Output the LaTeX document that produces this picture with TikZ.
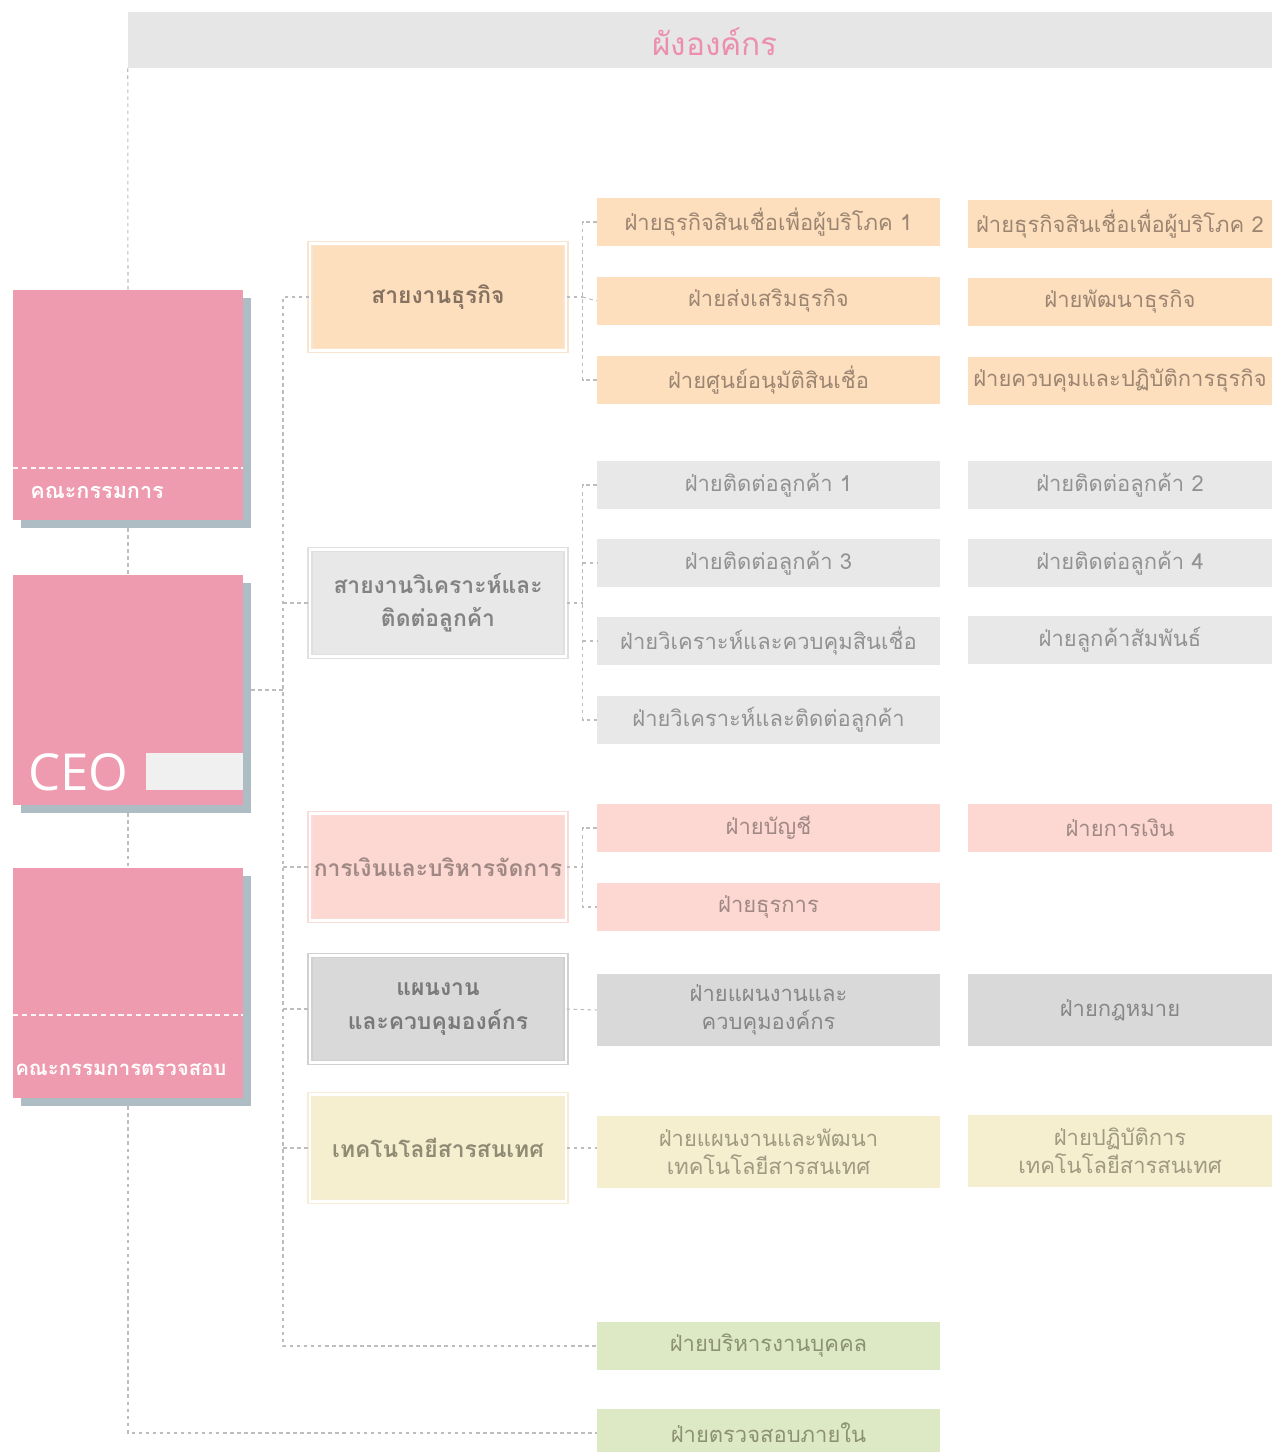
\documentclass[tikz,border=0pt]{standalone}
\usepackage{fontspec}
\newfontfamily\thaifont[Script=Thai]{Loma}
\newfontfamily\ceofont{Open Sans}
\usetikzlibrary{shadows}
\definecolor{boardpink}{HTML}{EE9AAF}
\definecolor{shadowblue}{HTML}{AEBCC3}
\definecolor{titlegray}{HTML}{E6E6E6}
\definecolor{titlepink}{HTML}{EC8FAE}
\definecolor{linegray}{HTML}{BDBDBD}
\definecolor{bizfill}{HTML}{FDDFBE}
\definecolor{bizframe}{HTML}{F8E4CF}
\definecolor{biztext}{HTML}{9C8672}
\definecolor{anlfill}{HTML}{E8E8E8}
\definecolor{anlframe}{HTML}{E0E0E0}
\definecolor{anltext}{HTML}{929292}
\definecolor{finfill}{HTML}{FDD7D1}
\definecolor{finframe}{HTML}{F9DCD7}
\definecolor{fintext}{HTML}{A08985}
\definecolor{planfill}{HTML}{D9D9D9}
\definecolor{planframe}{HTML}{D0D0D0}
\definecolor{plantext}{HTML}{878787}
\definecolor{techfill}{HTML}{F5EECF}
\definecolor{techframe}{HTML}{F5EDD5}
\definecolor{techtext}{HTML}{A09A82}
\definecolor{hrfill}{HTML}{DDE8C5}
\definecolor{hrtext}{HTML}{8C9174}
\tikzset{
  link/.style={draw=linegray, line width=0.6pt, dash pattern=on 2pt off 2pt},
  whitedash/.style={draw=white!90!boardpink, line width=0.7pt, dash pattern=on 3pt off 2pt},
  pinkbox/.style={fill=boardpink, minimum width=4.6cm, minimum height=4.6cm, inner sep=0pt,
    general shadow={fill=shadowblue, shadow xshift=0.16cm, shadow yshift=-0.16cm}},
  boardlabel/.style={text=white, font=\thaifont\bfseries\fontsize{12.3}{15}\selectfont, inner sep=0pt},
  grp/.style 2 args={fill=#1, draw=#2, double=white, double distance=1.6pt, line width=0.7pt,
    minimum width=5.12cm, minimum height=2.14cm, inner sep=0pt, align=center,
    font=\thaifont\bfseries\fontsize{13}{19}\selectfont},
  unit/.style 2 args={fill=#1, text=#2, minimum height=0.96cm, inner sep=0pt, align=center,
    font=\thaifont\fontsize{12.5}{16}\selectfont},
  wide/.style={minimum width=6.86cm},
  narrow/.style={minimum width=6.08cm},
  tall/.style={minimum height=1.44cm}
}
\begin{document}
\begin{tikzpicture}[x=0.02cm,y=-0.02cm]
\useasboundingbox (0,0) rectangle (1278,1452);

% title bar
\node[fill=titlegray, minimum width=22.88cm, minimum height=1.12cm, inner sep=0pt] (title) at (700,40) {};
\node[text=titlepink, font=\thaifont\fontsize{18}{20}\selectfont, inner sep=0pt] (titletxt) at (715,42) {ผังองค์กร};

% board, CEO, audit committee
\node[pinkbox] (board) at (128,405) {};
\node[pinkbox] (ceo) at (128,690) {};
\node[pinkbox] (audit) at (128,983) {};
\draw[whitedash] (13,468) -- (243,468);
\draw[whitedash] (13,1015) -- (243,1015);
\node[boardlabel, anchor=west] (boardtxt) at (30,492) {คณะกรรมการ};
\node[boardlabel, anchor=west, font=\thaifont\bfseries\fontsize{11.6}{14}\selectfont] (audittxt) at (15,1070) {คณะกรรมการตรวจสอบ};
\node[text=white, font=\ceofont\fontsize{29}{31}\selectfont, inner sep=0pt, anchor=west] (ceotxt) at (28,772) {CEO};
\node[fill=white!94!black, minimum width=1.94cm, minimum height=0.74cm, inner sep=0pt] (ceobar) at (194.5,771.5) {};

% lines of work
\node[grp={bizfill}{bizframe}, text=biztext!85!black] (biz) at (438,297) {สายงานธุรกิจ};
\node[grp={anlfill}{anlframe}, text=anltext!90!black] (anl) at (438,603) {สายงานวิเคราะห์และ\\ติดต่อลูกค้า};
\node[grp={finfill}{finframe}, text=fintext] (fin) at (438,867) {การเงินและบริหารจัดการ};
\node[grp={planfill}{planframe}, text=plantext!90!black] (plan) at (438,1009) {แผนงาน\\และควบคุมองค์กร};
\node[grp={techfill}{techframe}, text=techtext!90!black] (tech) at (438,1148) {เทคโนโลยีสารสนเทศ};

% departments
\foreach \n/\c/\y/\t in {b1/wide/222/ฝ่ายธุรกิจสินเชื่อเพื่อผู้บริโภค 1, b2/wide/301/ฝ่ายส่งเสริมธุรกิจ,
    b3/wide/380/ฝ่ายศูนย์อนุมัติสินเชื่อ}
  \node[unit={bizfill}{biztext}, \c] (\n) at (768.5,\y) {\t};
\foreach \n/\c/\y/\t in {b4/narrow/224/ฝ่ายธุรกิจสินเชื่อเพื่อผู้บริโภค 2, b5/narrow/302/ฝ่ายพัฒนาธุรกิจ,
    b6/narrow/381/ฝ่ายควบคุมและปฏิบัติการธุรกิจ}
  \node[unit={bizfill}{biztext}, \c] (\n) at (1120,\y) {\t};
\foreach \n/\y/\t in {a1/485/ฝ่ายติดต่อลูกค้า 1, a2/563/ฝ่ายติดต่อลูกค้า 3,
    a3/641/ฝ่ายวิเคราะห์และควบคุมสินเชื่อ, a4/720/ฝ่ายวิเคราะห์และติดต่อลูกค้า}
  \node[unit={anlfill}{anltext}, wide] (\n) at (768.5,\y) {\t};
\foreach \n/\y/\t in {a5/485/ฝ่ายติดต่อลูกค้า 2, a6/563/ฝ่ายติดต่อลูกค้า 4, a7/640/ฝ่ายลูกค้าสัมพันธ์}
  \node[unit={anlfill}{anltext}, narrow] (\n) at (1120,\y) {\t};
\node[unit={finfill}{fintext}, wide] (f1) at (768.5,828) {ฝ่ายบัญชี};
\node[unit={finfill}{fintext}, wide] (f2) at (768.5,907) {ฝ่ายธุรการ};
\node[unit={finfill}{fintext}, narrow] (f3) at (1120,828) {ฝ่ายการเงิน};
\node[unit={planfill}{plantext}, wide, tall] (p1) at (768.5,1010) {ฝ่ายแผนงานและ\\ควบคุมองค์กร};
\node[unit={planfill}{plantext}, narrow, tall] (p2) at (1120,1010) {ฝ่ายกฎหมาย};
\node[unit={techfill}{techtext}, wide, tall] (t1) at (768.5,1152) {ฝ่ายแผนงานและพัฒนา\\เทคโนโลยีสารสนเทศ};
\node[unit={techfill}{techtext}, narrow, tall] (t2) at (1120,1151) {ฝ่ายปฏิบัติการ\\เทคโนโลยีสารสนเทศ};
\node[unit={hrfill}{hrtext}, wide] (hr) at (768.5,1346) {ฝ่ายบริหารงานบุคคล};
\node[unit={hrfill}{hrtext}, wide] (iaudit) at (768.5,1433) {ฝ่ายตรวจสอบภายใน};

% connectors
\coordinate (sp) at (283,690);
\draw[link] (title.south west) -- (board.north);
\draw[link] ([yshift=-0.16cm]board.south) -- (ceo.north);
\draw[link] ([yshift=-0.16cm]ceo.south) -- (audit.north);
\draw[link] ([yshift=-0.16cm]audit.south) |- (iaudit.west);
\draw[link] ([xshift=0.16cm]ceo.east) -- (sp);
\draw[link] (biz.west) -| (sp) |- (hr.west);
\foreach \g in {anl,fin,plan,tech}
  \draw[link] (\g.west -| sp) -- (\g.west);

\draw[link] (biz.east) -- ++(16,0) coordinate (bb);
\draw[link] (b1.west) -| (bb) |- (b3.west);
\draw[link] (bb) -- (b2.west);
\draw[link] (anl.east) -- ++(16,0) coordinate (ab);
\draw[link] (a1.west) -| (ab) |- (a4.west);
\draw[link] (a2.west -| ab) -- (a2.west);
\draw[link] (a3.west -| ab) -- (a3.west);
\draw[link] (fin.east) -- ++(16,0) coordinate (fb);
\draw[link] (f1.west) -| (fb) |- (f2.west);
\draw[link] (plan.east) -- (p1.west);
\draw[link] (tech.east) -- (tech.east -| t1.west);
\end{tikzpicture}
\end{document}
